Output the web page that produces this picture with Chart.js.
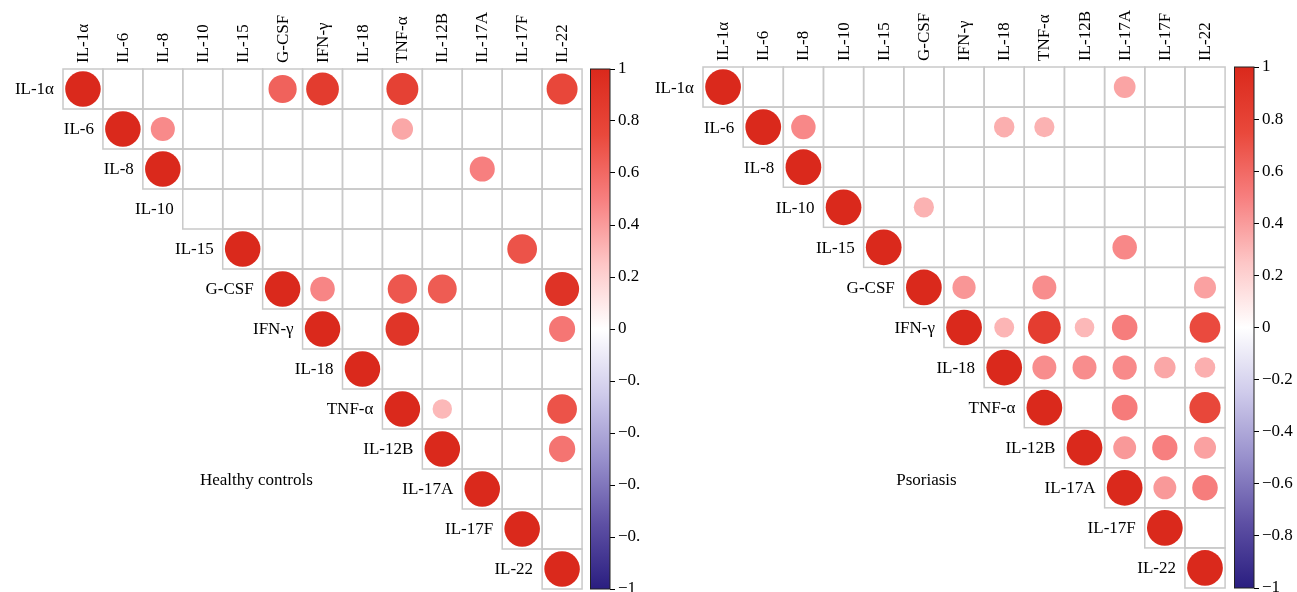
<!DOCTYPE html>
<html>
<head>
<meta charset="utf-8">
<script src="https://cdn.jsdelivr.net/npm/chart.js@4.4.1/dist/chart.umd.min.js"></script>
<style>
  html, body { margin: 0; padding: 0; background: #fff; }
  body { width: 1297px; height: 592px; position: relative; overflow: hidden; }
  canvas { position: absolute; top: 0; }
  #cv-healthy { left: 0; }
  #cv-psoriasis { left: 640px; }
</style>
</head>
<body>
<canvas id="cv-healthy" width="640" height="592"></canvas>
<canvas id="cv-psoriasis" width="657" height="592"></canvas>
<script>
// cytokine names, same order on both axes
const cytokines = ["IL-1α", "IL-6", "IL-8", "IL-10", "IL-15", "G-CSF", "IFN-γ", "IL-18", "TNF-α", "IL-12B", "IL-17A", "IL-17F", "IL-22"];

// upper triangle of the correlation matrix, null = blank cell
const healthyRows = [
    [1, null, null, null, null, 0.63, 0.85, null, 0.81, null, null, null, 0.76],
    [null, 1, 0.46, null, null, null, null, null, 0.36, null, null, null, null],
    [null, null, 1, null, null, null, null, null, null, null, 0.50, null, null],
    [null, null, null, null, null, null, null, null, null, null, null, null, null],
    [null, null, null, null, 1, null, null, null, null, null, null, 0.70, null],
    [null, null, null, null, null, 1, 0.48, null, 0.68, 0.66, null, null, 0.92],
    [null, null, null, null, null, null, 1, null, 0.90, null, null, null, 0.54],
    [null, null, null, null, null, null, null, 1, null, null, null, null, null],
    [null, null, null, null, null, null, null, null, 1, 0.30, null, null, 0.70],
    [null, null, null, null, null, null, null, null, null, 1, null, null, 0.55],
    [null, null, null, null, null, null, null, null, null, null, 1, null, null],
    [null, null, null, null, null, null, null, null, null, null, null, 1, null],
    [null, null, null, null, null, null, null, null, null, null, null, null, 1]
];

const psoriasisRows = [
    [1, null, null, null, null, null, null, null, null, null, 0.37, null, null],
    [null, 1, 0.47, null, null, null, null, 0.33, 0.32, null, null, null, null],
    [null, null, 1, null, null, null, null, null, null, null, null, null, null],
    [null, null, null, 1, null, 0.32, null, null, null, null, null, null, null],
    [null, null, null, null, 1, null, null, null, null, null, 0.47, null, null],
    [null, null, null, null, null, 1, 0.42, null, 0.45, null, null, null, 0.38],
    [null, null, null, null, null, null, 1, 0.31, 0.84, 0.30, 0.51, null, 0.74],
    [null, null, null, null, null, null, null, 1, 0.45, 0.45, 0.46, 0.36, 0.33],
    [null, null, null, null, null, null, null, null, 1, null, 0.52, null, 0.76],
    [null, null, null, null, null, null, null, null, null, 1, 0.41, 0.50, 0.38],
    [null, null, null, null, null, null, null, null, null, null, 1, 0.41, 0.51],
    [null, null, null, null, null, null, null, null, null, null, null, 1, null],
    [null, null, null, null, null, null, null, null, null, null, null, null, 1]
];

const colorbarTicks = [-1, -0.8, -0.6, -0.4, -0.2, 0, 0.2, 0.4, 0.6, 0.8, 1];

// colour ramp of the legend bar
const rampStops = [-1, -0.75, -0.5, -0.25, 0, 0.25, 0.5, 0.75, 1];
const rampColors = ["#2a1e80", "#5e50a4", "#9890cc", "#cfcbeb", "#ffffff", "#fdc6c6", "#f77f7f", "#e9483b", "#da291c"];

const serif = "'Liberation Serif', 'DejaVu Serif', serif";
Chart.defaults.font.family = serif;
Chart.defaults.font.size = 17;
Chart.defaults.color = "#000";

function hexToRgb(h) {
    return [parseInt(h.substr(1, 2), 16), parseInt(h.substr(3, 2), 16), parseInt(h.substr(5, 2), 16)];
}

function rampColor(v) {
    if (v <= rampStops[0]) return rampColors[0];
    for (let k = 1; k < rampStops.length; k++) {
        if (v <= rampStops[k]) {
            const t = (v - rampStops[k - 1]) / (rampStops[k] - rampStops[k - 1]);
            const a = hexToRgb(rampColors[k - 1]);
            const b = hexToRgb(rampColors[k]);
            const c = a.map(function (x, i) { return Math.round(x + (b[i] - x) * t); });
            return "rgb(" + c.join(",") + ")";
        }
    }
    return rampColors[rampColors.length - 1];
}

function buildPoints(rows) {
    const pts = [];
    rows.forEach(function (row, i) {
        row.forEach(function (v, j) {
            if (v !== null && j >= i) pts.push({ x: j, y: i, v: v });
        });
    });
    return pts;
}

function cellSize(chart) {
    const sx = chart.scales.x;
    return Math.abs(sx.getPixelForValue(1) - sx.getPixelForValue(0));
}

function circleRadius(c) {
    if (!c.raw) return 0;
    return 0.445 * cellSize(c.chart) * Math.sqrt(Math.abs(c.raw.v));
}

// grid, row labels, panel title and the colour bar
const corrDecor = {
    id: "corrDecor",
    beforeDatasetsDraw: function (chart, args, opts) {
        const ctx = chart.ctx;
        const sx = chart.scales.x;
        const sy = chart.scales.y;
        const area = chart.chartArea;
        const n = cytokines.length;

        ctx.save();
        ctx.strokeStyle = "#c9c9c9";
        ctx.lineWidth = 1.5;
        for (let i = 0; i < n; i++) {
            for (let j = i; j < n; j++) {
                const x0 = sx.getPixelForValue(j - 0.5);
                const x1 = sx.getPixelForValue(j + 0.5);
                const y0 = sy.getPixelForValue(i - 0.5);
                const y1 = sy.getPixelForValue(i + 0.5);
                ctx.strokeRect(x0, y0, x1 - x0, y1 - y0);
            }
        }

        ctx.fillStyle = "#000";
        ctx.font = "17px " + serif;
        ctx.textAlign = "right";
        ctx.textBaseline = "middle";
        for (let i = 0; i < n; i++) {
            ctx.fillText(cytokines[i], sx.getPixelForValue(i - 0.5) - 9, sy.getPixelForValue(i) + 1);
        }

        ctx.textAlign = "left";
        ctx.fillText(opts.title, sx.getPixelForValue(opts.titleX), sy.getPixelForValue(opts.titleY));

        // colour bar
        const s2 = chart.scales.y2;
        const top = s2.getPixelForValue(1);
        const bot = s2.getPixelForValue(-1);
        const bx = area.right - opts.barWidth;
        const grad = ctx.createLinearGradient(0, top, 0, bot);
        rampStops.forEach(function (s, k) {
            grad.addColorStop((1 - s) / 2, rampColors[k]);
        });
        ctx.fillStyle = grad;
        ctx.fillRect(bx, top, opts.barWidth, bot - top);
        ctx.strokeStyle = "#222";
        ctx.lineWidth = 1;
        ctx.strokeRect(bx, top, opts.barWidth, bot - top);
        ctx.restore();
    }
};

function makeChart(canvasId, rows, cfg) {
    const ctx = document.getElementById(canvasId).getContext("2d");
    return new Chart(ctx, {
        type: "scatter",
        data: {
            datasets: [{
                data: buildPoints(rows),
                pointRadius: circleRadius,
                pointHoverRadius: circleRadius,
                pointBackgroundColor: function (c) {
                    return c.raw ? rampColor(c.raw.v) : "#fff";
                },
                pointBorderWidth: 0
            }]
        },
        plugins: [corrDecor],
        options: {
            responsive: false,
            animation: false,
            events: [],
            layout: { padding: { left: 63, top: 0, right: 0, bottom: cfg.padBottom } },
            scales: {
                x: {
                    type: "linear",
                    position: "top",
                    min: -0.5,
                    max: cfg.xMax,
                    afterBuildTicks: function (scale) {
                        scale.ticks = cytokines.map(function (c, i) { return { value: i }; });
                    },
                    afterFit: function (scale) {
                        scale.height = cfg.top;
                        scale.paddingLeft = 0;
                        scale.paddingRight = 0;
                    },
                    grid: { display: false, drawTicks: false },
                    border: { display: false },
                    ticks: {
                        autoSkip: false,
                        minRotation: 90,
                        maxRotation: 90,
                        padding: 6,
                        labelOffset: 21,
                        callback: function (v) { return cytokines[v]; }
                    }
                },
                y: {
                    type: "linear",
                    display: false,
                    reverse: true,
                    min: -0.5,
                    max: 12.5
                },
                y2: {
                    type: "linear",
                    position: "right",
                    min: -1,
                    max: 1,
                    afterBuildTicks: function (scale) {
                        scale.ticks = colorbarTicks.map(function (v) { return { value: v }; });
                    },
                    afterFit: function (scale) {
                        scale.width = cfg.axisWidth;
                        scale.paddingTop = 0;
                        scale.paddingBottom = 0;
                    },
                    grid: { display: true, drawOnChartArea: false, drawTicks: true, tickLength: 5, color: "#000" },
                    border: { display: false },
                    ticks: {
                        padding: 3,
                        callback: function (v) {
                            const r = Math.round(v * 10) / 10;
                            if (r === 0) return "0";
                            return r < 0 ? "\u2212" + Math.abs(r) : String(r);
                        }
                    }
                }
            },
            plugins: {
                legend: { display: false },
                tooltip: { enabled: false },
                corrDecor: {
                    title: cfg.title,
                    titleX: cfg.titleX,
                    titleY: cfg.titleY,
                    barWidth: 19.5
                }
            }
        }
    });
}

makeChart("cv-healthy", healthyRows, {
    title: "Healthy controls", titleX: 2.93, titleY: 9.8,
    top: 69, padBottom: 3, axisWidth: 30, xMax: 13.2
});
makeChart("cv-psoriasis", psoriasisRows, {
    title: "Psoriasis", titleX: 4.31, titleY: 9.83,
    top: 67, padBottom: 4, axisWidth: 43, xMax: 13.22
});
</script>
</body>
</html>
